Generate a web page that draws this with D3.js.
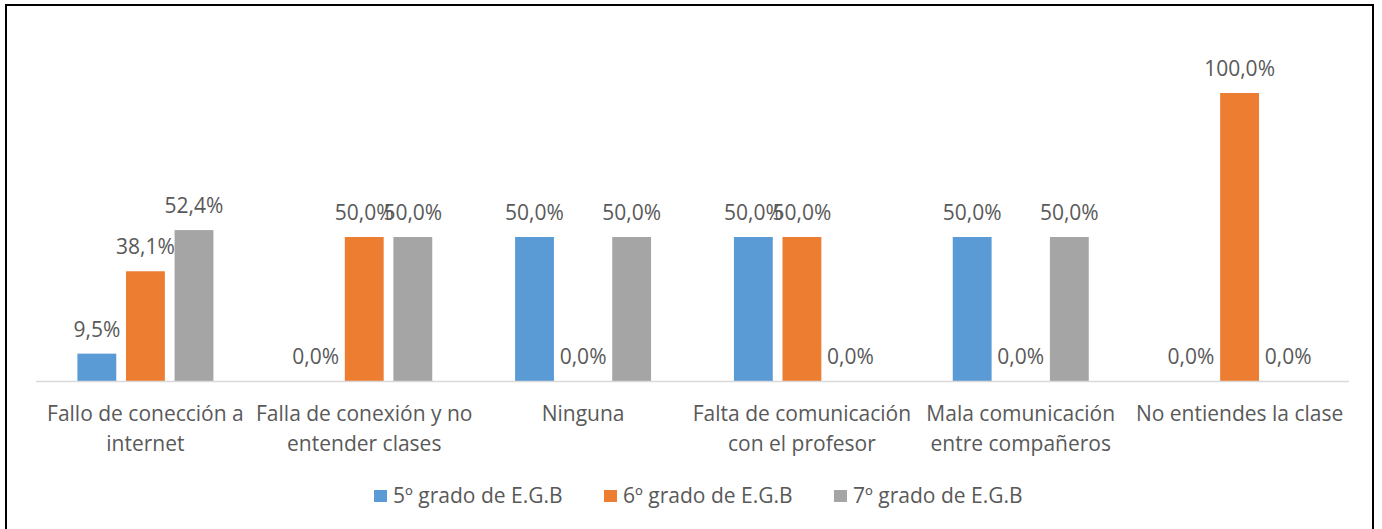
<!DOCTYPE html>
<html>
<head>
<meta charset="utf-8">
<script src="https://d3js.org/d3.v7.min.js"></script>
<style>
  body { margin: 0; background: white; }
  text { font-family: "Open Sans", "Noto Sans", sans-serif; fill: #595959; font-size: 21px; }
</style>
</head>
<body>
<script>
var categories = [
  ["Fallo de conección a", "internet"],
  ["Falla de conexión y no", "entender clases"],
  ["Ninguna"],
  ["Falta de comunicación", "con el profesor"],
  ["Mala comunicación", "entre compañeros"],
  ["No entiendes la clase"]
];
var seriesNames = ["5º grado de E.G.B", "6º grado de E.G.B", "7º grado de E.G.B"];
var grado5 = [9.5, 0, 50, 50, 50, 0];
var grado6 = [38.1, 50, 0, 50, 0, 100];
var grado7 = [52.4, 50, 50, 0, 50, 0];
var colors = ["#5B9BD5", "#ED7D31", "#A5A5A5"];

var width = 1382, height = 529;
var svg = d3.select("body").append("svg")
  .attr("width", width).attr("height", height);

// outer frame
svg.append("rect").attr("x", 6).attr("y", 5)
  .attr("width", 1367).attr("height", 530)
  .attr("fill", "none").attr("stroke", "black").attr("stroke-width", 2);

var x0 = d3.scaleBand().domain(d3.range(categories.length)).range([36, 1349]);
var x1 = d3.scaleBand().domain(d3.range(3)).range([0, 136]).paddingInner(0.2);
var y = d3.scaleLinear().domain([0, 100]).range([381, 93]);

var series = [grado5, grado6, grado7];

var groups = svg.selectAll(".grp").data(categories).enter().append("g")
  .attr("transform", function(d, i) { return "translate(" + (x0(i) + x0.bandwidth() / 2 - 68) + ",0)"; });

groups.each(function(d, i) {
  var g = d3.select(this);
  var vals = series.map(function(s) { return s[i]; });
  g.selectAll("rect").data(vals).enter().append("rect")
    .attr("x", function(v, j) { return x1(j); })
    .attr("y", function(v) { return y(v); })
    .attr("width", x1.bandwidth())
    .attr("height", function(v) { return y(0) - y(v); })
    .attr("fill", function(v, j) { return colors[j]; });
  g.selectAll("text").data(vals).enter().append("text")
    .attr("text-anchor", "middle")
    .attr("x", function(v, j) { return x1(j) + x1.bandwidth() / 2; })
    .attr("y", function(v) { return y(v) - 17; })
    .text(function(v) { return v.toFixed(1).replace(".", ",") + "%"; });
});

// baseline
svg.append("line").attr("x1", 36).attr("x2", 1349)
  .attr("y1", 381.5).attr("y2", 381.5)
  .attr("stroke", "#D9D9D9").attr("stroke-width", 1.5);

// category labels
categories.forEach(function(lines, i) {
  var cx = x0(i) + x0.bandwidth() / 2;
  var t = svg.append("text").attr("text-anchor", "middle").attr("x", cx).attr("y", 421);
  lines.forEach(function(l, k) {
    t.append("tspan").attr("x", cx).attr("dy", k ? 30 : 0).text(l);
  });
});

// legend
var legend = svg.selectAll(".legend").data(seriesNames).enter().append("g")
  .attr("transform", function(d, i) { return "translate(" + (374 + i * 230) + ",490)"; });
legend.append("rect").attr("width", 13).attr("height", 12)
  .attr("fill", function(d, i) { return colors[i]; });
legend.append("text").attr("x", 19).attr("y", 13).text(function(d) { return d; });
</script>
</body>
</html>
